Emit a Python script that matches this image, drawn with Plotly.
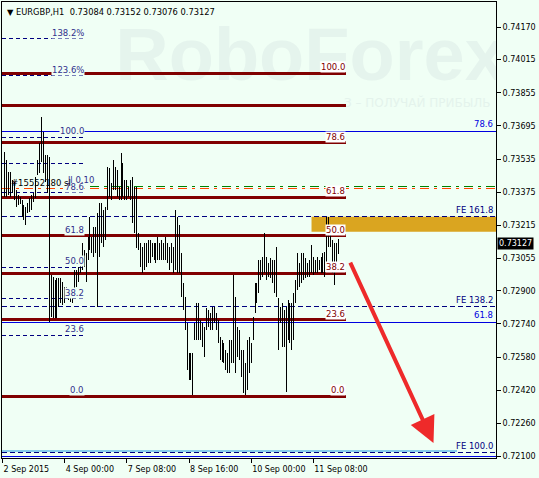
import plotly.graph_objects as go

# ---------------- data ----------------
header_text = "EURGBP,H1  0.73084 0.73152 0.73076 0.73127"
last_price = 0.73127

bar_high = [
    0.73571, 0.73531, 0.73474, 0.73474, 0.73434, 0.73426, 0.73386, 0.73362, 0.73354, 0.73338,
    0.73314, 0.73305, 0.73322, 0.73346, 0.73362, 0.73370, 0.73450, 0.73531, 0.73611, 0.73740,
    0.73667, 0.73555, 0.73555, 0.73547, 0.72976, 0.72968, 0.72952, 0.72960, 0.72960, 0.72960,
    0.72944, 0.72920, 0.72920, 0.72895, 0.72887, 0.72879, 0.73000, 0.73000, 0.73016, 0.73064,
    0.73129, 0.73096, 0.73080, 0.73161, 0.73257, 0.73161, 0.73209, 0.73209, 0.73273, 0.73322,
    0.73322, 0.73289, 0.73305, 0.73499, 0.73490, 0.73418, 0.73531, 0.73499, 0.73482, 0.73402,
    0.73563, 0.73515, 0.73434, 0.73434, 0.73402, 0.73434, 0.73450, 0.73402, 0.73402, 0.73177,
    0.73129, 0.73112, 0.73129, 0.73129, 0.73145, 0.73145, 0.73129, 0.73129, 0.73129, 0.73161,
    0.73129, 0.73145, 0.73129, 0.73161, 0.73129, 0.73112, 0.73129, 0.73112, 0.73289, 0.73257,
    0.73217, 0.73080, 0.72936, 0.72871, 0.72743, 0.72598, 0.72598, 0.72598, 0.72743, 0.72839,
    0.72839, 0.72759, 0.72743, 0.72727, 0.72815, 0.72807, 0.72791, 0.72823, 0.72823, 0.72791,
    0.72759, 0.72678, 0.72662, 0.72646, 0.72614, 0.72598, 0.72662, 0.72662, 0.72976, 0.72871,
    0.72727, 0.72710, 0.72614, 0.72614, 0.72550, 0.72662, 0.72678, 0.72646, 0.72775, 0.72936,
    0.72936, 0.73048, 0.73048, 0.73064, 0.73177, 0.73064, 0.73032, 0.73056, 0.73048, 0.73048,
    0.73112, 0.72863, 0.72823, 0.72839, 0.72807, 0.72823, 0.72855, 0.72839, 0.72839, 0.72887,
    0.72952, 0.73080, 0.73032, 0.73080, 0.73080, 0.73056, 0.73032, 0.73048, 0.73121, 0.73064,
    0.73048, 0.73064, 0.73048, 0.73064, 0.73080, 0.73088, 0.73257, 0.73257, 0.73177, 0.73145,
    0.73129, 0.73129, 0.73152,
]
bar_low = [
    0.73351, 0.73351, 0.73362, 0.73351, 0.73370, 0.73338, 0.73305, 0.73314, 0.73318, 0.73257,
    0.73241, 0.73217, 0.73273, 0.73281, 0.73289, 0.73330, 0.73346, 0.73458, 0.73466, 0.73523,
    0.73466, 0.73426, 0.73370, 0.72751, 0.72775, 0.72767, 0.72767, 0.72767, 0.72823, 0.72839,
    0.72831, 0.72839, 0.72879, 0.72855, 0.72847, 0.72839, 0.72903, 0.72920, 0.72944, 0.72984,
    0.73000, 0.73016, 0.72944, 0.73048, 0.73096, 0.73080, 0.73064, 0.73080, 0.72823, 0.73064,
    0.73129, 0.73112, 0.73145, 0.73289, 0.73354, 0.73338, 0.73386, 0.73386, 0.73354, 0.73338,
    0.73338, 0.73354, 0.73338, 0.73338, 0.73354, 0.73338, 0.73225, 0.73177, 0.73104, 0.73096,
    0.73016, 0.72984, 0.73000, 0.73016, 0.73032, 0.73032, 0.73064, 0.73048, 0.73032, 0.73048,
    0.73048, 0.73048, 0.73048, 0.73048, 0.73032, 0.73000, 0.73032, 0.72984, 0.73000, 0.72984,
    0.72984, 0.72871, 0.72807, 0.72710, 0.72517, 0.72469, 0.72469, 0.72397, 0.72662, 0.72662,
    0.72662, 0.72662, 0.72630, 0.72582, 0.72710, 0.72727, 0.72710, 0.72710, 0.72743, 0.72710,
    0.72646, 0.72566, 0.72558, 0.72550, 0.72517, 0.72501, 0.72501, 0.72550, 0.72550, 0.72501,
    0.72582, 0.72566, 0.72485, 0.72405, 0.72397, 0.72421, 0.72501, 0.72550, 0.72662, 0.72791,
    0.72839, 0.72887, 0.72952, 0.72968, 0.72984, 0.72952, 0.72968, 0.72960, 0.72936, 0.72887,
    0.72871, 0.72614, 0.72743, 0.72630, 0.72630, 0.72413, 0.72662, 0.72646, 0.72614, 0.72662,
    0.72839, 0.72903, 0.72920, 0.72936, 0.72952, 0.72960, 0.72968, 0.72968, 0.72984, 0.72976,
    0.72984, 0.72984, 0.73000, 0.72984, 0.72984, 0.72968, 0.73016, 0.73112, 0.73112, 0.72984,
    0.72928, 0.73016, 0.73076,
]
bar_hour = list(range(1, len(bar_high) + 1))  # hours since 2 Sep 2015 16:00

time_tick_hours = [0, 32, 64, 96, 128, 160]
time_tick_labels = ["2 Sep 2015", "4 Sep 00:00", "7 Sep 08:00", "8 Sep 16:00",
                    "10 Sep 00:00", "11 Sep 08:00"]

price_ticks = [0.74170, 0.74015, 0.73855, 0.73695, 0.73535, 0.73375, 0.73215,
               0.73055, 0.72900, 0.72740, 0.72580, 0.72420, 0.72260, 0.72100]

# Fibonacci retracement (left, dashed navy)
fib_left_prices = [0.74115, 0.73938, 0.73640, 0.73515, 0.73373, 0.73166, 0.73014, 0.72862, 0.72685, 0.72392]
fib_left_labels = ["138.2%", "123.6%", "100.0", "", "78.6", "61.8", "50.0", "38.2", "23.6", "0.0"]
fib_left_end_hour = 42.2

# Fibonacci retracement (dark red)
fib_red_prices = [0.73950, 0.73796, 0.73614, 0.73351, 0.73166, 0.72985, 0.72759, 0.72392]
fib_red_labels = ["100.0", "", "78.6", "61.8", "50.0", "38.2", "23.6", "0.0"]
fib_red_end_hour = 176.6

# Fibonacci (blue, full width)
fib_blue_prices = [0.73669, 0.72749, 0.72100]
fib_blue_labels = ["78.6", "61.8", ""]

# Fibonacci expansion (dashed navy, full width)
fe_prices = [0.73257, 0.72823, 0.72118]
fe_labels = ["FE 161.8", "FE 138.2", "FE 100.0"]

# order lines
order_green_price = 0.73403
order_orange_price = 0.73392
order_green_start_hour = 45
light_blue_price = 0.72129
light_blue_end_hour = 234

# target zone
zone_low, zone_high = 0.73185, 0.73257
zone_start_hour = 159.1

# forecast arrow
arrow_start = (178.7, 0.73043)
arrow_end = (221.9, 0.72165)

# watermark anchor
watermark_pos = (158.6, 0.74004)
slogan_pos = (251.3, 0.73801)

x_range = [-0.3, 254.1]
y_range = [0.72093, 0.74293]

# ---------------- styles ----------------
BG = "#F0FFF5"
FONT = "DejaVu Sans"
NAVY = "#000080"
LABEL_NAVY = "#30308C"
DARKRED = "#800000"
BLUE = "#0000E0"

fig = go.Figure()

# watermark (as a trace so it sits below the lines)
fig.add_trace(go.Scatter(x=[watermark_pos[0]], y=[watermark_pos[1]], mode="text",
                         text=["<b>RoboForex</b>"], textposition="middle center",
                         textfont=dict(family="Liberation Sans", size=74, color="#E5F4ED"),
                         hoverinfo="skip", showlegend=False))
fig.add_trace(go.Scatter(x=[slogan_pos[0]], y=[slogan_pos[1]], mode="text",
                         text=["З – ПОЛУЧАЙ ПРИБЫЛЬ"], textposition="middle left",
                         textfont=dict(family=FONT, size=12, color="#E4F3EC"),
                         hoverinfo="skip", showlegend=False))

# target zone
fig.add_shape(type="rect", xref="x", yref="y", x0=zone_start_hour, x1=x_range[1],
              y0=zone_low, y1=zone_high, fillcolor="#DAA520", line=dict(width=0), layer="below")


def level_trace(prices, x0, x1, color, width, dash="solid"):
    xs, ys = [], []
    for p in prices:
        xs += [x0, x1, None]
        ys += [p, p, None]
    fig.add_trace(go.Scatter(x=xs, y=ys, mode="lines",
                             line=dict(color=color, width=width, dash=dash),
                             hoverinfo="skip", showlegend=False))


level_trace(fib_left_prices, x_range[0], fib_left_end_hour, NAVY, 1, "4px,3px")
level_trace(fe_prices, x_range[0], x_range[1], NAVY, 1, "5px,3px")
level_trace(fib_blue_prices, x_range[0], x_range[1], BLUE, 1)
level_trace([light_blue_price], x_range[0], light_blue_end_hour, "#87CEEB", 2)
level_trace([order_orange_price], x_range[0], x_range[1], "#FF4500", 1, "9px,5px,3px,5px")
level_trace([order_green_price], order_green_start_hour, x_range[1], "#008000", 1, "9px,5px,3px,5px")
level_trace(fib_red_prices, x_range[0], fib_red_end_hour, DARKRED, 3)

# price bars (high-low)
bx, by = [], []
for h, hi, lo in zip(bar_hour, bar_high, bar_low):
    bx += [h, h, None]
    by += [hi, lo, None]
fig.add_trace(go.Scatter(x=bx, y=by, mode="lines", line=dict(color="black", width=1),
                         hoverinfo="skip", showlegend=False))

ann_font = dict(family=FONT, size=8.5)

for p, t in zip(fib_left_prices, fib_left_labels):
    if t:
        fig.add_annotation(x=fib_left_end_hour, y=p, text=t, showarrow=False, xanchor="right",
                           yanchor="bottom", font=dict(ann_font, color=LABEL_NAVY),
                           bgcolor=BG, borderpad=0)
for p, t in zip(fib_red_prices, fib_red_labels):
    if t:
        fig.add_annotation(x=fib_red_end_hour, y=p, text=t, showarrow=False, xanchor="right",
                           yanchor="bottom", font=dict(ann_font, color=DARKRED),
                           bgcolor="white", borderpad=0)
for p, t in zip(fib_blue_prices, fib_blue_labels):
    if t:
        fig.add_annotation(x=x_range[1], y=p, text=t, showarrow=False, xanchor="right",
                           yanchor="bottom", xshift=-1, font=dict(ann_font, color=BLUE))
for p, t in zip(fe_prices, fe_labels):
    fig.add_annotation(x=x_range[1], y=p, text=t, showarrow=False, xanchor="right",
                       yanchor="bottom", xshift=-1, font=dict(ann_font, color=NAVY))

# order label
fig.add_annotation(x=3.5, y=0.73422, text="#15552180 sl", showarrow=False, xanchor="left",
                   yanchor="middle", font=dict(ann_font, color="black"))
fig.add_annotation(x=32.5, y=0.73436, text="ll 0.10", showarrow=False, xanchor="left",
                   yanchor="middle", font=dict(ann_font, color=LABEL_NAVY))

# arrow
fig.add_annotation(x=arrow_end[0], y=arrow_end[1], ax=arrow_start[0], ay=arrow_start[1],
                   xref="x", yref="y", axref="x", ayref="y", text="", showarrow=True,
                   arrowhead=2, arrowsize=1.3, arrowwidth=4, arrowcolor="#EE2A2A")

# header
fig.add_annotation(xref="paper", yref="paper", x=0.0, y=1.0, xshift=3, yshift=-3,
                   text="▼ " + header_text, showarrow=False, xanchor="left", yanchor="top",
                   font=dict(family=FONT, size=8.3, color="black"))

# last price label
fig.add_annotation(xref="paper", yref="y", x=1.0, y=last_price, xshift=1,
                   text=f"{last_price:.5f}", showarrow=False, xanchor="left", yanchor="middle",
                   font=dict(family=FONT, size=8, color="white"), bgcolor="black", borderpad=1)

fig.update_layout(
    width=539, height=478,
    margin=dict(l=2, r=43, t=2, b=20, autoexpand=False),
    paper_bgcolor=BG, plot_bgcolor=BG,
    showlegend=False,
    xaxis=dict(range=x_range, showgrid=False, zeroline=False, automargin=False,
               tickvals=time_tick_hours, ticktext=time_tick_labels, tickangle=0,
               ticks="outside", ticklen=4, tickcolor="black",
               ticklabelposition="outside right", ticklabelstandoff=3,
               showline=True, linecolor="black", linewidth=1, mirror=True,
               tickfont=dict(family=FONT, size=8, color="black")),
    yaxis=dict(range=y_range, side="right", showgrid=False, zeroline=False, automargin=False,
               tickvals=price_ticks, ticktext=[f"{v:.5f}" for v in price_ticks],
               ticks="outside", ticklen=4, tickcolor="black",
               showline=True, linecolor="black", linewidth=1, mirror=True,
               tickfont=dict(family=FONT, size=8, color="black")),
)

post = (
    "document.body.style.margin='0px';"
    "document.body.style.overflow='hidden';"
    "document.body.style.background='" + BG + "';"
    "var st=document.createElement('style');"
    "st.textContent='.scatterlayer path.js-line{shape-rendering:crispEdges;}';"
    "document.head.appendChild(st);"
)
fig.write_html("out.html", config={"displayModeBar": False}, post_script=post)
